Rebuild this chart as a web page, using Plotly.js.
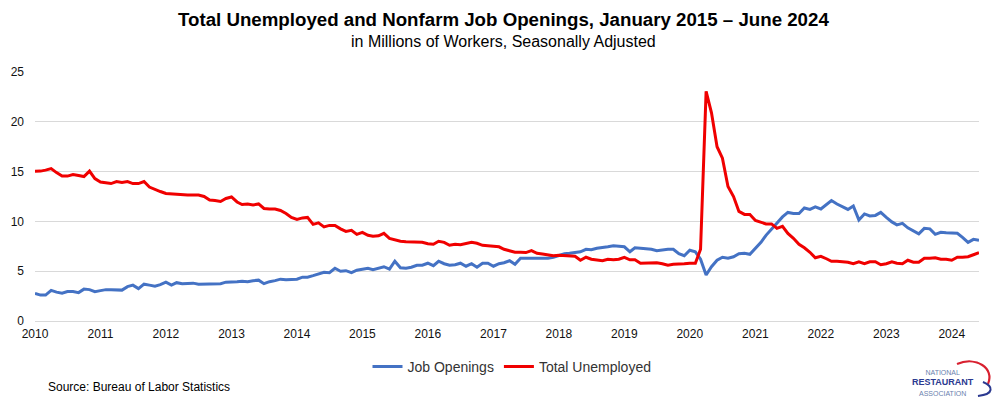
<!DOCTYPE html>
<html>
<head>
<meta charset="utf-8">
<script src="https://cdn.plot.ly/plotly-3.0.1.min.js"></script>
<style>
  html, body { margin: 0; padding: 0; background: #fff; }
  #chart { width: 1006px; height: 412px; }
</style>
</head>
<body>
<div id="chart"></div>
<script>
// ---- Data (millions of workers, monthly, Jan 2010 – Jun 2024) ----
const startYear = 2010;
const monthCount = 174;

const yearTicks = [2010, 2011, 2012, 2013, 2014, 2015, 2016, 2017, 2018, 2019, 2020, 2021, 2022, 2023, 2024];

const jobOpenings = [
  // 2010
  2.78, 2.6, 2.6, 3.08, 2.9, 2.8, 2.95, 2.95, 2.85, 3.2, 3.15, 2.95,
  // 2011
  3.05, 3.15, 3.15, 3.1, 3.1, 3.45, 3.6, 3.25, 3.7, 3.6, 3.5, 3.65,
  // 2012
  3.9, 3.6, 3.85, 3.75, 3.8, 3.8, 3.7, 3.7, 3.75, 3.7, 3.75, 3.9,
  // 2013
  3.9, 3.95, 4.0, 3.95, 4.05, 4.1, 3.75, 3.95, 4.05, 4.2, 4.15, 4.15,
  // 2014
  4.2, 4.4, 4.4, 4.55, 4.7, 4.9, 4.85, 5.3, 5.0, 5.05, 4.85, 5.1,
  // 2015
  5.2, 5.3, 5.15, 5.3, 5.45, 5.2, 6.0, 5.35, 5.3, 5.4, 5.6, 5.6,
  // 2016
  5.8, 5.55, 6.0, 5.75, 5.6, 5.65, 5.8, 5.5, 5.75, 5.4, 5.8, 5.8,
  // 2017
  5.5, 5.75, 5.85, 6.05, 5.7, 6.3, 6.3, 6.3, 6.3, 6.35, 6.3, 6.4,
  // 2018
  6.6, 6.75, 6.8, 6.85, 6.95, 7.2, 7.15, 7.3, 7.35, 7.45, 7.55, 7.5,
  // 2019
  7.45, 6.95, 7.35, 7.3, 7.25, 7.2, 7.05, 7.15, 7.2, 7.2, 6.75, 6.55,
  // 2020
  7.1, 6.95, 6.2, 4.62, 5.45, 6.1, 6.4, 6.3, 6.45, 6.75, 6.8, 6.7,
  // 2021
  7.3, 7.9, 8.6, 9.25, 9.9, 10.45, 10.9, 10.8, 10.8, 11.35, 11.2, 11.45,
  // 2022
  11.25, 11.7, 12.1, 11.75, 11.5, 11.2, 11.55, 10.15, 10.75, 10.55, 10.6, 10.9,
  // 2023
  10.4, 9.95, 9.65, 9.8, 9.35, 9.05, 8.75, 9.3, 9.25, 8.7, 8.9, 8.85,
  // 2024
  8.8, 8.8, 8.4, 7.9, 8.2, 8.1
];

const totalUnemployed = [
  // 2010
  15.04, 15.05, 15.15, 15.3, 14.9, 14.55, 14.55, 14.7, 14.6, 14.5, 15.05, 14.3,
  // 2011
  13.95, 13.85, 13.8, 14.0, 13.9, 14.0, 13.8, 13.8, 14.0, 13.45, 13.2, 13.0,
  // 2012
  12.8, 12.75, 12.7, 12.65, 12.65, 12.65, 12.65, 12.5, 12.15, 12.1, 12.0, 12.3,
  // 2013
  12.45, 11.95, 11.7, 11.75, 11.65, 11.75, 11.3, 11.25, 11.25, 11.1, 10.8, 10.4,
  // 2014
  10.2, 10.35, 10.4, 9.7, 9.85, 9.45, 9.6, 9.6, 9.25, 9.0, 9.1, 8.7,
  // 2015
  8.9, 8.6, 8.5, 8.55, 8.8, 8.3, 8.15, 8.0, 7.95, 7.95, 7.95, 7.9,
  // 2016
  7.75, 7.7, 8.0, 7.9, 7.6, 7.7, 7.65, 7.8, 7.9, 7.8, 7.6, 7.55,
  // 2017
  7.5, 7.45, 7.2, 7.07, 6.9, 6.9, 6.87, 7.07, 6.8, 6.73, 6.67, 6.55,
  // 2018
  6.6, 6.55, 6.5, 6.5, 6.1, 6.4, 6.2, 6.1, 6.05, 6.2, 6.15, 6.2,
  // 2019
  6.4, 6.15, 6.15, 5.8, 5.8, 5.8, 5.85, 5.75, 5.6, 5.7, 5.7, 5.75,
  // 2020
  5.8, 5.8, 7.2, 23.05, 20.9, 17.5, 16.35, 13.5, 12.5, 11.0, 10.7, 10.7,
  // 2021
  10.1, 9.95, 9.75, 9.75, 9.3, 9.5, 8.8, 8.3, 7.7, 7.35, 6.9, 6.35,
  // 2022
  6.5, 6.25, 6.0, 6.0, 5.95, 5.9, 5.75, 5.95, 5.75, 5.95, 5.95, 5.65,
  // 2023
  5.75, 5.95, 5.8, 5.75, 6.1, 5.9, 5.9, 6.3, 6.3, 6.35, 6.2, 6.2,
  // 2024
  6.1, 6.4, 6.4, 6.45, 6.65, 6.85
];

// month dates
const months = [];
for (let i = 0; i < monthCount; i++) {
  const y = startYear + Math.floor(i / 12);
  const m = (i % 12) + 1;
  months.push(y + '-' + String(m).padStart(2, '0') + '-01');
}

// ---- Layout geometry ----
const W = 1006, H = 412;
const M = { l: 35, r: 27, t: 72, b: 91 };
const PW = W - M.l - M.r, PH = H - M.t - M.b;
const px = x => (x - M.l) / PW;
const py = y => (H - M.b - y) / PH;
const P = (x, y) => px(x).toFixed(4) + ',' + py(y).toFixed(4);

const FONT = 'Liberation Sans, Arial, sans-serif';

const traces = [
  {
    x: months, y: jobOpenings, type: 'scatter', mode: 'lines',
    name: 'Job Openings',
    line: { color: '#4472C4', width: 3 },
    hoverinfo: 'skip'
  },
  {
    x: months, y: totalUnemployed, type: 'scatter', mode: 'lines',
    name: 'Total Unemployed',
    line: { color: '#F00000', width: 3 },
    hoverinfo: 'skip'
  }
];

const layout = {
  width: W, height: H,
  margin: M,
  paper_bgcolor: '#ffffff',
  plot_bgcolor: '#ffffff',
  font: { family: FONT, color: '#222', size: 12 },
  showlegend: true,
  legend: {
    orientation: 'h',
    x: px(512), xanchor: 'center', xref: 'paper',
    y: py(367), yanchor: 'middle', yref: 'paper',
    font: { family: FONT, size: 14, color: '#333' },
    itemwidth: 30,
    bgcolor: 'rgba(0,0,0,0)'
  },
  xaxis: {
    type: 'date',
    range: ['2010-01-01', '2024-06-01'],
    tickvals: yearTicks.map(y => y + '-01-01'),
    ticktext: yearTicks.map(String),
    showgrid: false,
    zeroline: false,
    showline: false,
    ticks: '',
    ticklabelstandoff: 4,
    tickfont: { family: FONT, size: 12, color: '#111' },
    fixedrange: true
  },
  yaxis: {
    range: [0, 25],
    tickvals: [0, 5, 10, 15, 20, 25],
    showgrid: true,
    gridcolor: '#d9d9d9',
    gridwidth: 1,
    zeroline: true,
    zerolinecolor: '#d9d9d9',
    zerolinewidth: 1,
    showline: false,
    ticks: '',
    ticklabelstandoff: 10,
    tickfont: { family: FONT, size: 12, color: '#111' },
    fixedrange: true
  },
  annotations: [
    {
      text: '<b>Total Unemployed and Nonfarm Job Openings, January 2015 – June 2024</b>',
      xref: 'paper', yref: 'paper', x: px(503), y: py(19),
      xanchor: 'center', yanchor: 'middle', showarrow: false,
      font: { family: FONT, size: 18.7, color: '#000' }
    },
    {
      text: 'in Millions of Workers, Seasonally Adjusted',
      xref: 'paper', yref: 'paper', x: px(503), y: py(41),
      xanchor: 'center', yanchor: 'middle', showarrow: false,
      font: { family: FONT, size: 16, color: '#000' }
    },
    {
      text: 'Source: Bureau of Labor Statistics',
      xref: 'paper', yref: 'paper', x: px(46), y: py(387),
      xanchor: 'left', yanchor: 'middle', showarrow: false,
      font: { family: FONT, size: 12, color: '#000' }
    },
    {
      text: '<span style="font-size:7px;color:#6a7fae">NATIONAL</span><br>' +
            '<b><span style="font-size:9px;color:#2b3990">RESTAURANT</span></b><br>' +
            '<span style="font-size:7px;color:#6a7fae">ASSOCIATION</span>',
      xref: 'paper', yref: 'paper', x: px(943), y: py(383),
      xanchor: 'center', yanchor: 'middle', showarrow: false, align: 'center',
      font: { family: FONT, size: 8, color: '#6a7fae' }
    }
  ],
  shapes: [
    {
      type: 'path', xref: 'paper', yref: 'paper',
      path: 'M' + P(957, 364) + ' C' + P(976, 356) + ' ' + P(995, 368) + ' ' + P(988, 384),
      line: { color: '#d8202f', width: 2.2 }
    },
    {
      type: 'path', xref: 'paper', yref: 'paper',
      path: 'M' + P(983, 382) + ' C' + P(993, 386) + ' ' + P(995, 394) + ' ' + P(978, 396),
      line: { color: '#2b3990', width: 2 }
    }
  ]
};

Plotly.newPlot('chart', traces, layout, { displayModeBar: false, staticPlot: true });
</script>
</body>
</html>
